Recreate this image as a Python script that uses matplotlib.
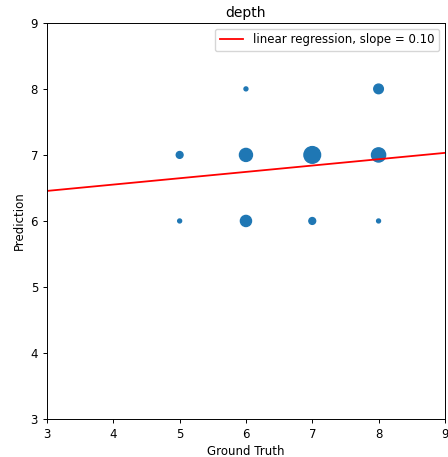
import matplotlib
matplotlib.use("Agg")
import matplotlib.pyplot as plt
import numpy as np

truth = [5, 5, 6, 6, 6, 7, 7, 8, 8, 8]
pred = [6, 7, 6, 7, 8, 6, 7, 6, 7, 8]
counts = [1, 3, 8, 11, 1, 3, 18, 1, 13, 6]
slope = 0.096
intercept = 6.167
slope_label = 0.10

plt.rcParams["font.size"] = 8.5
plt.rcParams["lines.linewidth"] = 1.3
plt.rcParams["axes.linewidth"] = 0.7
plt.rcParams["xtick.major.width"] = 0.7
plt.rcParams["ytick.major.width"] = 0.7
plt.rcParams["xtick.major.size"] = 3
plt.rcParams["ytick.major.size"] = 3

fig = plt.figure(figsize=(4.48, 4.57), dpi=100)
ax = fig.add_axes([0.105, 0.083, 0.888, 0.867])
ax.scatter(truth, pred, s=np.array(counts) * 8, color="tab:blue")
xs = np.array([3, 9])
ax.plot(xs, slope * xs + intercept, color="red",
        label=f"linear regression, slope = {slope_label:.2f}")
ax.set_xlim(3, 9)
ax.set_ylim(3, 9)
ax.set_xlabel("Ground Truth", labelpad=3)
ax.set_ylabel("Prediction", labelpad=3)
ax.set_title("depth", fontsize=10, pad=4)
ax.legend(loc="upper right")
fig.savefig("out.png", dpi=100)
